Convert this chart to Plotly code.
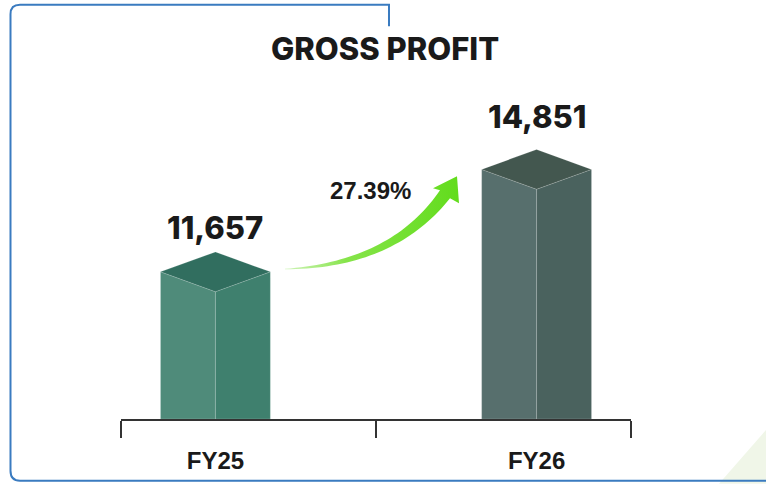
import numpy as np
import plotly.graph_objects as go

# ---- data ----
categories = ["FY25", "FY26"]
values = [11657, 14851]
value_labels = ["11,657", "14,851"]
growth_label = "27.39%"
title_text = "GROSS PROFIT"

# ---- styles ----
W, H = 766, 486
ML, MR, MT, MB = 121, 135, 60, 65
Y0, Y1 = 7068, 18262
X0, X1 = -0.294, 1.294
half_w = 0.171
depth_px = 20
left_cols = ["#4f8b7a", "#576f6d"]
right_cols = ["#3f806e", "#4a625e"]
top_cols = ["#316e5f", "#43574f"]
label_shift = [24, 33]

pw = W - ML - MR
ph = H - MT - MB
ypx = ph / (Y1 - Y0)
d = depth_px / ypx


def px2paper(px, py):
    return (px - ML) / pw, (H - MB - py) / ph


fig = go.Figure()

for i, v in enumerate(values):
    xs_l = [i - half_w, i, i, i - half_w, i - half_w]
    ys_l = [v, v - d, Y0, Y0, v]
    xs_r = [i, i + half_w, i + half_w, i, i]
    ys_r = [v - d, v, Y0, Y0, v - d]
    xs_t = [i - half_w, i, i + half_w, i, i - half_w]
    ys_t = [v, v + d, v, v - d, v]
    for xs, ys, c in [(xs_l, ys_l, left_cols[i]), (xs_r, ys_r, right_cols[i]), (xs_t, ys_t, top_cols[i])]:
        fig.add_trace(go.Scatter(x=xs, y=ys, fill="toself", fillcolor=c, mode="lines",
                                 line=dict(color="rgba(255,255,255,0.25)", width=0.6),
                                 hoverinfo="skip", showlegend=False))
    fig.add_annotation(x=i, y=v + d, text=value_labels[i], showarrow=False,
                       xanchor="center", yanchor="middle", yshift=label_shift[i],
                       font=dict(family="Inter", size=31, weight=800, color="#1a1a1a"))

# ---- growth arrow (decoration) built from pixel geometry ----
def bez(p0, p1, p2, n=40):
    t = np.linspace(0, 1, n)[:, None]
    p0, p1, p2 = map(np.array, (p0, p1, p2))
    return (1 - t) ** 2 * p0 + 2 * (1 - t) * t * p1 + t ** 2 * p2

upper = bez((285, 270), (392, 262), (440, 191))
lower = bez((450, 199), (394, 270), (285, 270.5))
head = np.array([[440, 191], [433, 189], [457, 177], [459, 204], [450, 199]])
pts = np.vstack([upper, head, lower, upper[:1]])
ax = (pts[:, 0] - ML) / pw * (X1 - X0) + X0
ay = Y0 + (H - MB - pts[:, 1]) / ypx
fig.add_trace(go.Scatter(x=ax, y=ay, fill="toself", mode="none",
                         fillgradient=dict(type="horizontal",
                                           colorscale=[[0, "rgba(170,235,130,0.6)"], [0.35, "#86e44a"], [1, "#62dc1c"]]),
                         hoverinfo="skip", showlegend=False))

gx, gy = px2paper(370, 191)
fig.add_annotation(xref="paper", yref="paper", x=gx, y=gy, text=f"<b>{growth_label}</b>",
                   showarrow=False, xanchor="center", yanchor="middle",
                   font=dict(family="Liberation Sans", size=24, color="#1a1a1a"))

tx, ty = px2paper(385, 48)
fig.add_annotation(xref="paper", yref="paper", x=tx, y=ty, text=title_text,
                   showarrow=False, xanchor="center", yanchor="middle",
                   font=dict(family="Inter", size=31, weight=800, color="#1a1a1a"))

# ---- frame decorations ----
def p(px, py):
    a, b = px2paper(px, py)
    return f"{a:.5f},{b:.5f}"

tri = f"M {p(719,486)} L {p(766,486)} L {p(766,432)} Z"
fig.add_shape(type="path", xref="paper", yref="paper", path=tri,
              fillcolor="#f0f6e8", line=dict(width=0), layer="below")
border = (f"M {p(389,26)} L {p(389,4.5)} L {p(20,4.5)} Q {p(10.5,4.5)} {p(10.5,14)} "
          f"L {p(10.5,473)} Q {p(10.5,483)} {p(20,483)} L {p(766,483)}")
fig.add_shape(type="path", xref="paper", yref="paper", path=border,
              line=dict(color="#3a7bc0", width=2))

fig.update_layout(
    width=W, height=H, margin=dict(l=ML, r=MR, t=MT, b=MB),
    paper_bgcolor="white", plot_bgcolor="white", showlegend=False,
    xaxis=dict(range=[X0, X1], showgrid=False, zeroline=False, showline=True,
               linecolor="#333333", linewidth=1.5,
               tickmode="array", tickvals=[0, 1], ticktext=[f"<b>{c}</b>" for c in categories],
               ticks="", ticklabelstandoff=19,
               tickfont=dict(family="Liberation Sans", size=24, color="#1a1a1a"),
               minor=dict(tickmode="array", tickvals=[X0, 0.5, X1], ticks="outside",
                          ticklen=17, tickwidth=1.5, tickcolor="#333333"),
               fixedrange=True),
    yaxis=dict(range=[Y0, Y1], visible=False, fixedrange=True),
)

fig.write_html("out.html", config={"displayModeBar": False},
               post_script="document.body.style.margin='0px';document.body.style.overflow='hidden';")
